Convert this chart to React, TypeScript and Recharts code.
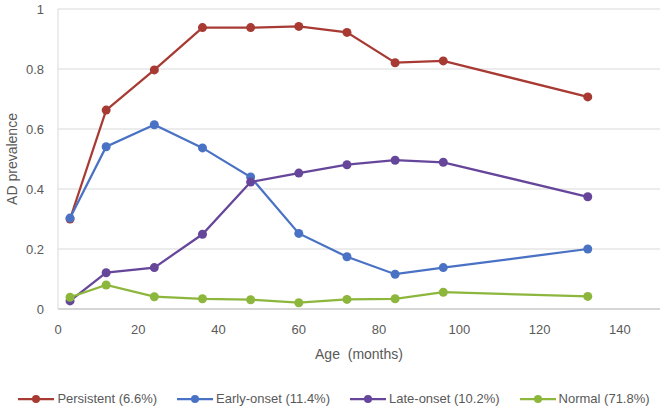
import React from 'react';
import {
  LineChart,
  Line,
  XAxis,
  YAxis,
  CartesianGrid,
  Legend,
  Label,
} from 'recharts';

const ages = [3, 12, 24, 36, 48, 60, 72, 84, 96, 132];
const persistent = [0.3, 0.663, 0.797, 0.938, 0.938, 0.942, 0.922, 0.821, 0.827, 0.707];
const earlyOnset = [0.303, 0.541, 0.614, 0.537, 0.44, 0.252, 0.174, 0.116, 0.138, 0.2];
const lateOnset = [0.027, 0.121, 0.138, 0.249, 0.423, 0.453, 0.481, 0.496, 0.489, 0.374];
const normal = [0.039, 0.08, 0.041, 0.034, 0.031, 0.021, 0.032, 0.034, 0.056, 0.042];

const xTicks = [0, 20, 40, 60, 80, 100, 120, 140];
const yTicks = [0, 0.2, 0.4, 0.6, 0.8, 1];

const series = [
  { key: 'persistent', name: 'Persistent (6.6%)', color: '#A83A34' },
  { key: 'early', name: 'Early-onset (11.4%)', color: '#4A72C4' },
  { key: 'late', name: 'Late-onset (10.2%)', color: '#66469A' },
  { key: 'normal', name: 'Normal (71.8%)', color: '#8DB63C' },
];

const data = ages.map((age, i) => ({
  age,
  persistent: persistent[i],
  early: earlyOnset[i],
  late: lateOnset[i],
  normal: normal[i],
}));

const FONT = '"Liberation Sans", Arial, sans-serif';
const GRAY = '#595959';

function LegendContent() {
  return (
    <div
      style={{
        display: 'flex',
        justifyContent: 'center',
        alignItems: 'center',
        fontFamily: FONT,
        fontSize: 13,
        color: GRAY,
        paddingLeft: 8,
      }}
    >
      {series.map((s, i) => (
        <div
          key={s.key}
          style={{ display: 'flex', alignItems: 'center', marginRight: i < series.length - 1 ? 20 : 0 }}
        >
          <svg width={36} height={12} style={{ marginRight: 3 }}>
            <line x1={0} y1={6} x2={36} y2={6} stroke={s.color} strokeWidth={2.25} />
            <circle cx={18} cy={6} r={4} fill={s.color} />
          </svg>
          <span>{s.name}</span>
        </div>
      ))}
    </div>
  );
}

export default function App() {
  return (
    <div style={{ position: 'absolute', left: 0, top: 0, width: 664, height: 411, background: '#fff' }}>
      <LineChart
        width={664}
        height={411}
        data={data}
        margin={{ top: 9, right: 4, left: 0, bottom: 2 }}
      >
        <CartesianGrid vertical={false} stroke="#D9D9D9" strokeWidth={1} />
        <XAxis
          dataKey="age"
          type="number"
          domain={[0, 150]}
          ticks={xTicks}
          tickLine={false}
          tickSize={0}
          tickMargin={16}
          height={82}
          axisLine={{ stroke: '#BFBFBF', strokeWidth: 1 }}
          tick={{ fill: GRAY, fontSize: 13, fontFamily: FONT }}
        >
          <Label
            value={'Age\u00a0\u00a0(months)'}
            position="insideTop"
            offset={40}
            style={{ fill: GRAY, fontSize: 14, fontFamily: FONT }}
          />
        </XAxis>
        <YAxis
          type="number"
          domain={[0, 1]}
          ticks={yTicks}
          width={58}
          tickLine={false}
          tickSize={0}
          tickMargin={14}
          axisLine={{ stroke: '#D9D9D9', strokeWidth: 1 }}
          tick={{ fill: GRAY, fontSize: 13, fontFamily: FONT }}
          tickFormatter={(v: number) => String(v)}
        >
          <Label
            value="AD prevalence"
            angle={-90}
            position="insideLeft"
            offset={12}
            style={{ fill: GRAY, fontSize: 14, fontFamily: FONT, textAnchor: 'middle' }}
          />
        </YAxis>
        <Legend verticalAlign="bottom" height={18} content={<LegendContent />} />
        {series.map((s) => (
          <Line
            key={s.key}
            dataKey={s.key}
            name={s.name}
            stroke={s.color}
            strokeWidth={2.25}
            dot={{ r: 4.5, fill: s.color, stroke: s.color, strokeWidth: 0 }}
            activeDot={false}
            isAnimationActive={false}
          />
        ))}
      </LineChart>
    </div>
  );
}
